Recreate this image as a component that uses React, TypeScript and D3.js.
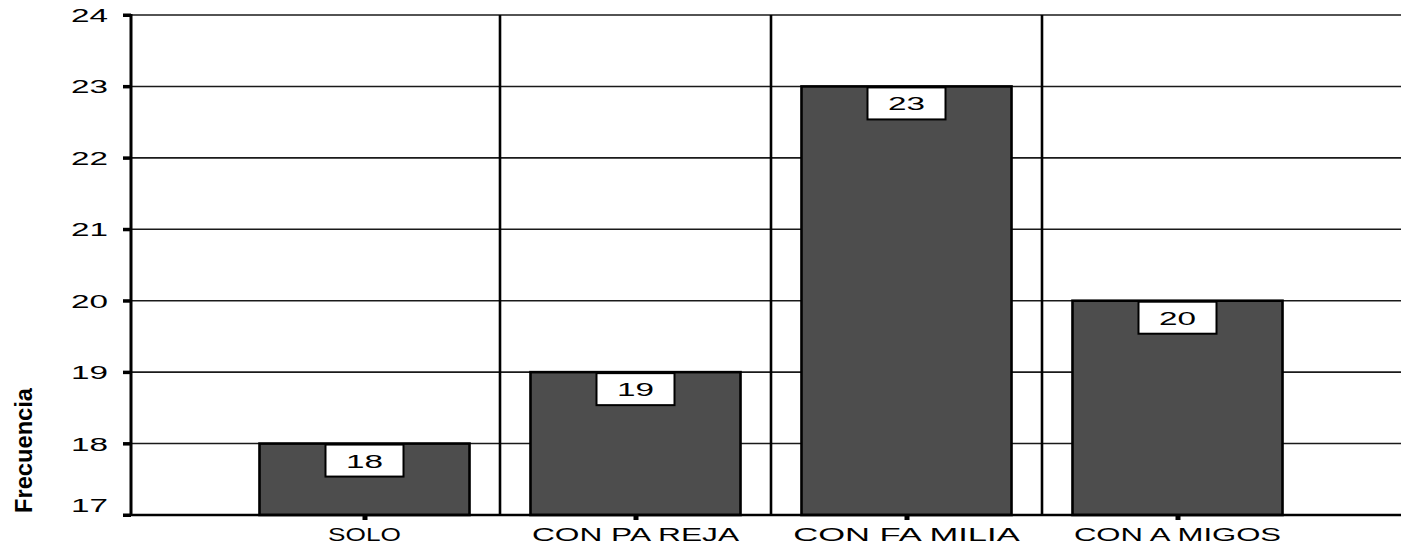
import React from "react";
import * as d3 from "d3";

// Frequency of respondents by who they live with
const categories = ["SOLO", "CON PA REJA", "CON FA MILIA", "CON A MIGOS"];
const frequencies = [18, 19, 23, 20];
const yTicks = [17, 18, 19, 20, 21, 22, 23, 24];
const yTitle = "Frecuencia";

const W = 1401;
const H = 545;
const FONT = "'Liberation Sans', Arial, sans-serif";

export default function App() {
  const x = d3
    .scaleBand<string>()
    .domain(categories)
    .range([229, 1313])
    .paddingInner(0.225)
    .paddingOuter(0.1125);
  const y = d3.scaleLinear().domain([17, 24]).range([515, 15]);

  const axisX = 131;
  const plotRight = W + 10;
  const step = x.step();
  // separators sit midway between neighbouring bars
  const separators = categories.slice(1).map((c) => (x(c) as number) - (step - x.bandwidth()) / 2);

  return (
    <svg
      width={W}
      height={H}
      style={{ position: "absolute", left: 0, top: 0, background: "#fff" }}
      fontFamily={FONT}
    >
      {/* horizontal grid */}
      {yTicks.map((t) => (
        <line key={"g" + t} x1={axisX} x2={plotRight} y1={y(t)} y2={y(t)} stroke="#1a1a1a" strokeWidth={1.6} />
      ))}
      {/* category separators */}
      {separators.map((sx, i) => (
        <line key={"s" + i} x1={sx} x2={sx} y1={y(24)} y2={y(17)} stroke="#000" strokeWidth={2.6} />
      ))}
      {/* bars */}
      {categories.map((c, i) => (
        <rect
          key={"b" + c}
          x={x(c)}
          y={y(frequencies[i])}
          width={x.bandwidth()}
          height={y(17) - y(frequencies[i])}
          fill="#4d4d4d"
          stroke="#000"
          strokeWidth={2.6}
        />
      ))}
      {/* value labels */}
      {categories.map((c, i) => {
        const cx = (x(c) as number) + x.bandwidth() / 2;
        const top = y(frequencies[i]);
        return (
          <g key={"v" + c}>
            <rect x={cx - 39} y={top + 1} width={78} height={32} fill="#fff" stroke="#000" strokeWidth={2} />
            <text
              x={cx - 18.5}
              y={top + 24}
              fontSize={18}
              textLength={37}
              lengthAdjust="spacingAndGlyphs"
              fill="#000"
            >
              {frequencies[i]}
            </text>
          </g>
        );
      })}
      {/* x axis */}
      <line x1={axisX} x2={plotRight} y1={y(17)} y2={y(17)} stroke="#000" strokeWidth={2.6} />
      {categories.map((c) => {
        const cx = (x(c) as number) + x.bandwidth() / 2;
        const len = c.length * 19.2 - 4;
        return (
          <g key={"xt" + c}>
            <rect x={cx - 2} y={y(17)} width={5} height={5} fill="#000" />
            <text
              x={cx - len / 2}
              y={541}
              fontSize={18}
              textLength={len}
              lengthAdjust="spacingAndGlyphs"
              fill="#000"
            >
              {c}
            </text>
          </g>
        );
      })}
      {/* y axis */}
      <line x1={axisX} x2={axisX} y1={y(24) - 1} y2={y(17) + 1} stroke="#000" strokeWidth={3} />
      {yTicks.map((t) => (
        <g key={"yt" + t}>
          <rect x={123} y={y(t) - 1.5} width={8} height={3.5} fill="#000" />
          <text
            x={71}
            y={Math.min(y(t) + 7, 512)}
            fontSize={18}
            textLength={37}
            lengthAdjust="spacingAndGlyphs"
            fill="#000"
          >
            {t}
          </text>
        </g>
      ))}
      {/* y axis title */}
      <text
        transform={`translate(32, 513) rotate(-90)`}
        fontSize={23}
        fontWeight="bold"
        textLength={125}
        lengthAdjust="spacingAndGlyphs"
        fill="#000"
      >
        {yTitle}
      </text>
    </svg>
  );
}
